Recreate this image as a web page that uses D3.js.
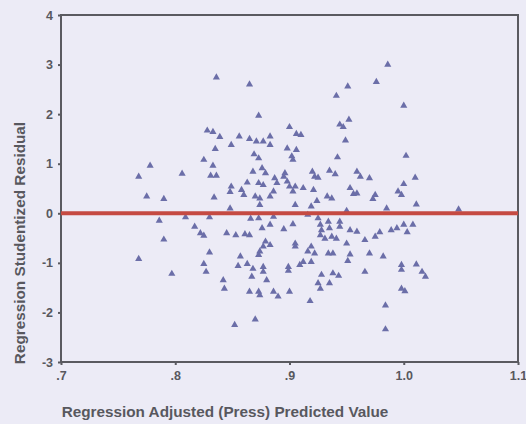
<!DOCTYPE html>
<html>
<head>
<meta charset="utf-8">
<script src="https://cdn.jsdelivr.net/npm/d3@7"></script>
<style>
  body { margin: 0; background: #ecebf6; }
  text { font-family: "Liberation Sans", Arial, sans-serif; font-weight: bold; fill: #58585e; }
</style>
</head>
<body>
<div id="chart"></div>
<script>
// predicted value (x) and studentized residual (y)
var predicted = [
  0.768, 0.778, 0.775, 0.790, 0.786, 0.790, 0.768, 0.797, 0.836, 0.865,
  0.828, 0.833, 0.839, 0.856, 0.865, 0.835, 0.849, 0.825, 0.833, 0.806,
  0.831, 0.836, 0.863, 0.849, 0.858, 0.860, 0.848, 0.834, 0.868, 0.869,
  0.848, 0.809, 0.830, 0.866, 0.817, 0.822, 0.825, 0.845, 0.853, 0.861,
  0.865, 0.830, 0.857, 0.825, 0.827, 0.855, 0.863, 0.868, 0.842, 0.843,
  0.867, 0.865, 0.852, 0.870, 0.984, 0.984, 0.918, 0.951, 0.976, 0.941,
  0.873, 0.952, 0.944, 0.947, 0.900, 0.906, 0.910, 0.883, 0.871, 0.877,
  0.883, 0.949, 0.898, 0.906, 0.873, 0.902, 0.903, 0.942, 0.876, 0.879,
  0.896, 0.895, 0.920, 0.922, 0.925, 0.935, 0.940, 0.959, 0.962, 0.970,
  0.887, 0.889, 0.873, 0.877, 0.898, 0.900, 0.912, 0.921, 0.953, 0.956,
  0.959, 0.905, 0.903, 0.886, 0.883, 0.870, 0.874, 0.933, 0.937, 0.975,
  0.973, 0.924, 0.919, 0.905, 0.874, 0.950, 0.873, 0.886, 0.916, 0.925,
  0.934, 0.944, 0.883, 0.903, 0.927, 0.928, 0.876, 0.895, 0.935, 0.944,
  0.953, 0.959, 0.927, 0.931, 0.937, 0.941, 0.950, 0.966, 0.975, 0.879,
  0.883, 0.877, 0.905, 0.905, 0.874, 0.873, 0.919, 0.916, 0.922, 0.934,
  0.938, 0.953, 0.951, 0.970, 0.912, 0.909, 0.919, 0.899, 0.899, 0.877,
  0.877, 0.966, 0.928, 0.938, 0.943, 0.880, 0.925, 0.927, 0.935, 0.873,
  0.874, 0.886, 0.890, 0.900, 0.986, 1.000, 1.002, 1.010, 1.000, 0.995,
  0.998, 0.985, 1.011, 1.048, 0.979, 0.989, 0.994, 1.000, 1.003, 1.008,
  0.982, 0.998, 0.998, 1.011, 1.016, 1.019, 0.998, 1.001
];
var residual = [
  0.74, 0.96, 0.34, 0.29, -0.15, -0.53, -0.92, -1.22, 2.74, 2.60,
  1.67, 1.64, 1.54, 1.55, 1.50, 1.30, 1.38, 1.08, 0.96, 0.80,
  0.76, 0.76, 0.62, 0.54, 0.47, 0.37, 0.43, 0.32, 0.84, 1.19,
  0.10, -0.08, -0.08, -0.11, -0.27, -0.40, -0.45, -0.40, -0.44, -0.42,
  -0.44, -0.79, -0.87, -1.02, -1.18, -1.06, -1.02, -1.12, -1.35, -1.52,
  -1.28, -1.58, -2.25, -2.14, -2.34, -1.86, -1.77, 2.56, 2.65, 2.37,
  1.97, 1.89, 1.79, 1.74, 1.74, 1.60, 1.58, 1.55, 1.45, 1.45,
  1.38, 1.47, 1.31, 1.28, 1.11, 1.15, 1.08, 1.13, 0.91, 0.81,
  0.81, 0.74, 0.84, 0.74, 0.72, 0.86, 0.79, 0.84, 0.74, 0.71,
  0.71, 0.61, 0.61, 0.57, 0.64, 0.54, 0.51, 0.47, 0.51, 0.39,
  0.40, 0.54, 0.44, 0.44, 0.34, 0.34, 0.30, 0.34, 0.30, 0.37,
  0.29, 0.25, 0.14, 0.17, 0.17, 0.05, -0.10, -0.07, -0.03, -0.10,
  -0.17, -0.17, -0.23, -0.22, -0.23, -0.34, -0.30, -0.32, -0.30, -0.27,
  -0.34, -0.37, -0.44, -0.51, -0.47, -0.51, -0.61, -0.54, -0.47, -0.57,
  -0.64, -0.67, -0.61, -0.67, -0.77, -0.84, -0.67, -0.77, -0.81, -0.81,
  -0.81, -0.83, -0.96, -0.81, -0.98, -1.04, -0.98, -1.08, -1.16, -1.08,
  -1.18, -1.18, -1.24, -1.21, -1.26, -1.35, -1.41, -1.52, -1.41, -1.58,
  -1.65, -1.58, -1.68, -1.58, 3.00, 2.17, 1.16, 0.72, 0.59, 0.44,
  0.37, 0.10, 0.18, 0.08, -0.38, -0.34, -0.30, -0.23, -0.38, -0.23,
  -0.87, -1.04, -1.14, -1.03, -1.18, -1.28, -1.52, -1.57
];
var xTicks = [0.7, 0.8, 0.9, 1.0, 1.1];
var xTickLabels = [".7", ".8", ".9", "1.0", "1.1"];
var yTicks = [-3, -2, -1, 0, 1, 2, 3, 4];
var xTitle = "Regression Adjusted (Press) Predicted Value";
var yTitle = "Regression Studentized Residual";

var width = 526, height = 424;
var margin = { top: 15, right: 8, bottom: 62, left: 61 };

var svg = d3.select("#chart").append("svg")
  .attr("width", width)
  .attr("height", height);

var xScale = d3.scaleLinear().domain([0.7, 1.1]).range([margin.left, width - margin.right]);
var yScale = d3.scaleLinear().domain([-3, 4]).range([height - margin.bottom, margin.top]);

var points = predicted.map((d, i) => ({ x: d, y: residual[i] }));

// frame
svg.append("rect")
  .attr("x", xScale(0.7)).attr("y", yScale(4))
  .attr("width", xScale(1.1) - xScale(0.7))
  .attr("height", yScale(-3) - yScale(4))
  .attr("fill", "none")
  .attr("stroke", "#5a5a60")
  .attr("stroke-width", 2);

// axes (ticks + labels only, frame draws the lines)
var xaxis = svg.append("g")
  .attr("transform", `translate(0, ${yScale(-3)})`)
  .call(d3.axisBottom(xScale).tickValues(xTicks).tickSize(3).tickPadding(6)
    .tickFormat((d, i) => xTickLabels[i]));

// plain hyphen for negatives, like the original
var yaxis = svg.append("g")
  .attr("transform", `translate(${xScale(0.7)}, 0)`)
  .call(d3.axisLeft(yScale).tickValues(yTicks).tickSize(3).tickPadding(5)
    .tickFormat(d => String(d)));

svg.selectAll(".domain").remove();
svg.selectAll(".tick line").attr("stroke", "#5a5a60").attr("stroke-width", 2);
svg.selectAll(".tick text").style("font-size", "12.5px").attr("fill", "#58585e");

// points
svg.selectAll(".pt")
  .data(points)
  .join("path")
  .attr("class", "pt")
  .attr("d", d3.symbol().type(d3.symbolTriangle).size(22))
  .attr("transform", d => `translate(${xScale(d.x)},${yScale(d.y)})`)
  .attr("fill", "#6b6ea8");

// zero reference line
svg.append("line")
  .attr("x1", xScale(0.7)).attr("x2", xScale(1.1))
  .attr("y1", yScale(0)).attr("y2", yScale(0))
  .attr("stroke", "#c54a42")
  .attr("stroke-width", 4);

// titles
svg.append("text")
  .attr("x", 225)
  .attr("y", 417)
  .attr("text-anchor", "middle")
  .style("font-size", "15.3px")
  .text(xTitle);

svg.append("text")
  .attr("transform", `translate(25, 243) rotate(-90)`)
  .attr("text-anchor", "middle")
  .style("font-size", "15.3px")
  .text(yTitle);
</script>
</body>
</html>
